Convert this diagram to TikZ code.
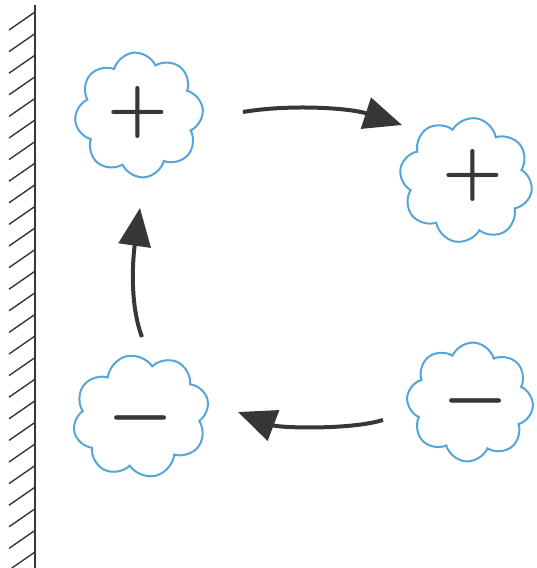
\documentclass[tikz,border=0pt]{standalone}
\usetikzlibrary{shapes.symbols,arrows.meta}
\definecolor{cloudblue}{RGB}{85,165,215}
\definecolor{ink}{RGB}{55,55,58}
\begin{document}
\begin{tikzpicture}[x=1pt,y=-1pt,
  puff/.style={cloud, cloud puffs=8, cloud puff arc=140, aspect=1,
    draw=cloudblue, line width=2pt, inner sep=0pt},
  sign/.style={text=ink, inner sep=0pt},
  flow/.style={draw=ink, line width=4pt, -{Triangle[length=38pt,width=32pt]}},
  hatch/.style={line width=1.4pt, draw=ink},
  wall/.style={line width=2.5pt, draw=ink}]
\useasboundingbox (0,0) rectangle (537,568);
% wall
\coordinate (wtop) at (35,5);
\coordinate (wbot) at (35,568);
\draw[wall] (wtop) -- (wbot);
\foreach \y in {12,33.6,...,560} \draw[hatch] (35,\y) -- (9,\y+18);
% clouds
\node[puff, minimum width=128pt, minimum height=125pt, rotate=5] (tl) at (139,115) {};
\node[puff, minimum width=133pt, minimum height=125pt, rotate=-10] (tr) at (466,180) {};
\node[puff, minimum width=137pt, minimum height=123pt, rotate=14] (bl) at (141,416) {};
\node[puff, minimum width=126pt, minimum height=119pt, rotate=-4] (br) at (470,402) {};
% signs
\node[sign] (ptl) at (138,112) {\scalebox{6.8}{\boldmath$+$}};
\node[sign] (ptr) at (473,175) {\scalebox{6.8}{\boldmath$+$}};
\node[sign] (mbl) at (141,418) {\scalebox{7.4}{\boldmath$-$}};
\node[sign] (mbr) at (476,401) {\scalebox{7.4}{\boldmath$-$}};
% arrows
\coordinate (a1s) at (243,112);
\coordinate (a1e) at (402,125);
\coordinate (a2s) at (383,420);
\coordinate (a2e) at (238,412);
\coordinate (a3s) at (142,337);
\coordinate (a3e) at (140,208);
\draw[flow] (a1s) .. controls (290,104) and (350,108) .. (a1e);
\draw[flow] (a2s) .. controls (350,430) and (280,428) .. (a2e);
\draw[flow] (a3s) .. controls (128,300) and (134,250) .. (a3e);
\end{tikzpicture}
\end{document}
